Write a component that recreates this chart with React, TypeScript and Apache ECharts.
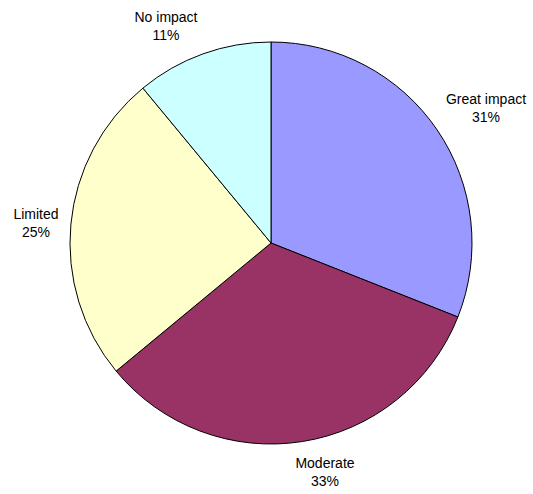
import React, { useEffect, useRef } from "react";
import * as echarts from "echarts";

const categories = ["Great impact", "Moderate", "Limited", "No impact"];
const values = [31, 33, 25, 11];
const colors = ["#9999FF", "#993366", "#FFFFCC", "#CCFFFF"];

// label block centres (layout, not data)
const labelPositions: [number, number][] = [
  [486, 108],
  [325, 472],
  [36, 223],
  [166, 26],
];

const CX = 271;
const CY = 243;
const R = 201;

export default function App() {
  const ref = useRef<HTMLDivElement>(null);
  useEffect(() => {
    if (!ref.current) return;
    const chart = echarts.init(ref.current, undefined, { renderer: "svg" });
    chart.setOption({
      animation: false,
      backgroundColor: "#ffffff",
      series: [
        {
          type: "pie",
          center: [CX, CY],
          radius: [0, R],
          startAngle: 90,
          clockwise: true,
          data: categories.map((name, i) => ({
            name,
            value: values[i],
            itemStyle: { color: colors[i] },
          })),
          itemStyle: { borderColor: "#000000", borderWidth: 1 },
          label: {
            show: true,
            position: "outside",
            formatter: "{b}\n{d}%",
            color: "#000000",
            fontFamily: "Liberation Sans, Arial, sans-serif",
            fontSize: 14,
            lineHeight: 18,
            align: "center",
            overflow: "none",
          },
          labelLine: { show: false },
          labelLayout: (params: any) => {
            const p = labelPositions[params.dataIndex];
            return {
              x: p[0],
              y: p[1],
              align: "center",
              verticalAlign: "middle",
            };
          },
          emphasis: { disabled: true },
        },
      ],
    });
    return () => chart.dispose();
  }, []);
  return (
    <div
      ref={ref}
      style={{ position: "fixed", left: 0, top: 0, width: 533, height: 494 }}
    />
  );
}
